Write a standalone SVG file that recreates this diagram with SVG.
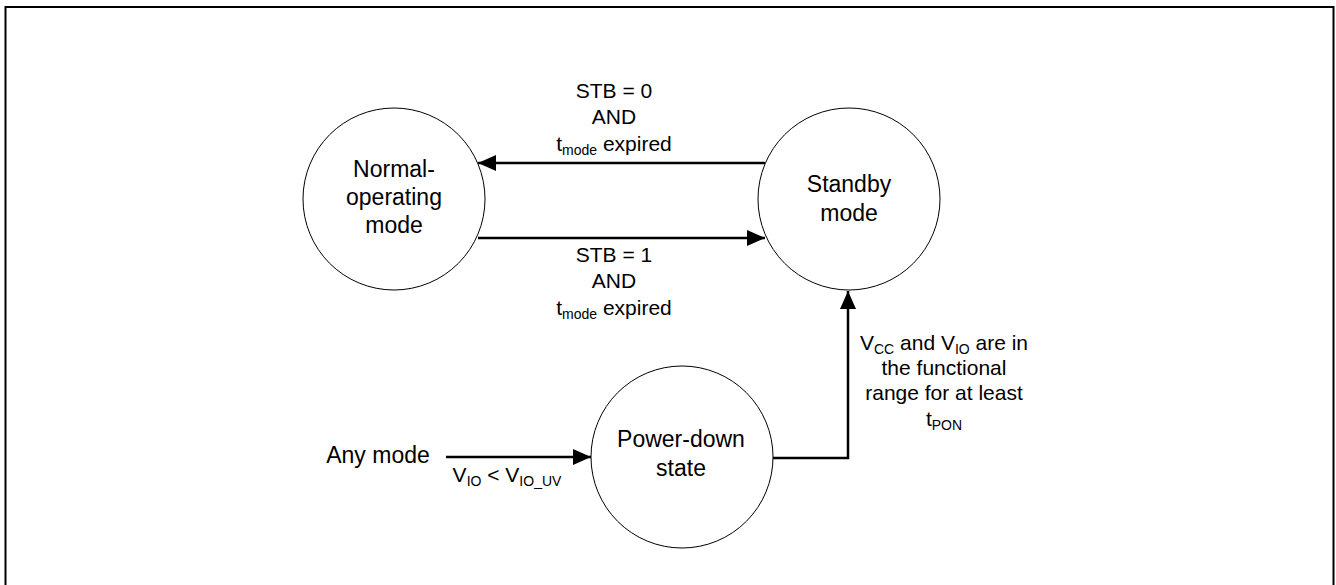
<svg xmlns="http://www.w3.org/2000/svg" width="1336" height="585" viewBox="0 0 1336 585">
<style>
.node{fill:#fff;stroke:#000;stroke-width:1}
.t{font-family:"Liberation Sans",Arial,sans-serif;font-size:23px;fill:#000;text-anchor:middle}
.l{font-family:"Liberation Sans",Arial,sans-serif;font-size:21px;fill:#000;text-anchor:middle}
.s{font-size:14px}
.c{fill:none;stroke:#000;stroke-width:2.5}
</style>
<defs>
<marker id="ah" viewBox="0 0 18 16" refX="18" refY="8" markerWidth="18" markerHeight="16" markerUnits="userSpaceOnUse" orient="auto">
<path d="M0,0 L18,8 L0,16 Z" fill="#000"/>
</marker>
</defs>
<rect x="5.5" y="7" width="1328" height="600" fill="#fff" stroke="#000" stroke-width="2"/>
<g id="normal">
<circle class="node" cx="394" cy="199" r="91"/>
<text class="t" x="394" y="177">Normal-</text>
<text class="t" x="394" y="205">operating</text>
<text class="t" x="394" y="233">mode</text>
</g>
<g id="standby">
<circle class="node" cx="849" cy="199" r="91"/>
<text class="t" x="849" y="192">Standby</text>
<text class="t" x="849" y="221">mode</text>
</g>
<g id="powerdown">
<circle class="node" cx="682" cy="457" r="91"/>
<text class="t" x="681" y="447">Power-down</text>
<text class="t" x="681" y="476">state</text>
</g>
<g id="anymode">
<text class="t" x="378" y="463">Any mode</text>
</g>
<g id="connectors">
<path class="c" d="M765,163 H478" marker-end="url(#ah)"/>
<path class="c" d="M478,238 H765" marker-end="url(#ah)"/>
<path class="c" d="M446,457 H591" marker-end="url(#ah)"/>
<path class="c" d="M773,458 H848 V291" marker-end="url(#ah)"/>
</g>
<g id="labels">
<text class="l" x="614" y="98">STB = 0</text>
<text class="l" x="614" y="124">AND</text>
<text class="l" x="614" y="151">t<tspan class="s" dy="4">mode</tspan><tspan dy="-4"> expired</tspan></text>
<text class="l" x="614" y="262">STB = 1</text>
<text class="l" x="614" y="288">AND</text>
<text class="l" x="614" y="315">t<tspan class="s" dy="4">mode</tspan><tspan dy="-4"> expired</tspan></text>
<text class="l" x="507" y="482">V<tspan class="s" dy="4">IO</tspan><tspan dy="-4"> &lt; V</tspan><tspan class="s" dy="4">IO_UV</tspan></text>
<text class="l" x="944" y="350">V<tspan class="s" dy="4">CC</tspan><tspan dy="-4"> and V</tspan><tspan class="s" dy="4">IO</tspan><tspan dy="-4"> are in</tspan></text>
<text class="l" x="944" y="375">the functional</text>
<text class="l" x="944" y="400">range for at least</text>
<text class="l" x="944" y="426">t<tspan class="s" dy="4">PON</tspan></text>
</g>
</svg>
